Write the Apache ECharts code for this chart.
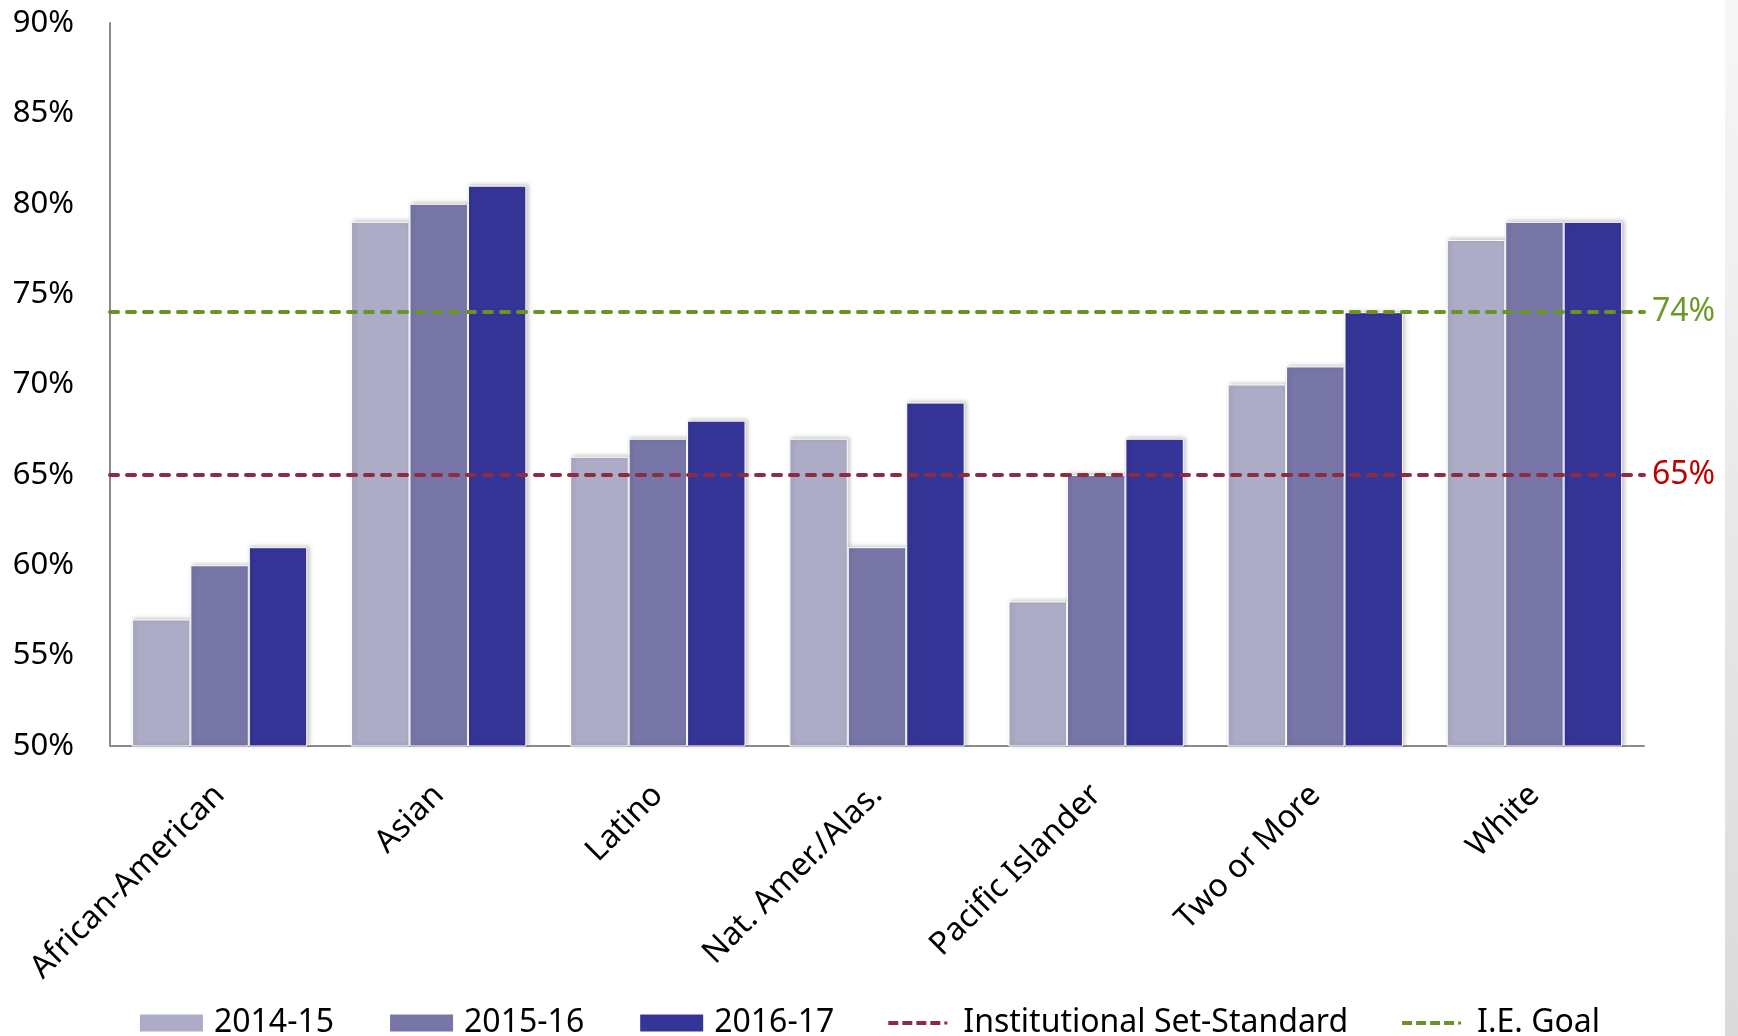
<!DOCTYPE html>
<html>
<head>
<meta charset="utf-8">
<script src="https://cdn.jsdelivr.net/npm/echarts@6/dist/echarts.min.js"></script>
<style>
  html, body { margin: 0; padding: 0; background: #ffffff; }
  #chart { width: 1738px; height: 1036px; }
</style>
</head>
<body>
<div id="chart"></div>
<script>
// Course success rates by ethnicity, three academic years
const categories = ['African-American', 'Asian', 'Latino', 'Nat. Amer./Alas.', 'Pacific Islander', 'Two or More', 'White'];
const years = ['2014-15', '2015-16', '2016-17'];
const rate2014 = [57, 79, 66, 67, 58, 70, 78];
const rate2015 = [60, 80, 67, 61, 65, 71, 79];
const rate2016 = [61, 81, 68, 69, 67, 74, 79];
const setStandard = 65;   // Institutional Set-Standard
const ieGoal = 74;        // I.E. Goal

const barColors = ['#ACACC6', '#7776A7', '#353597'];
const FONT = 'Noto Sans';
const DASH = [8, 9];

// dashed-line key glyph: four dashes and a dot, laid out in a 65x19 box
const DASH_ICON = 'path://M0,0M65,19' +
  'M0,7.5h10v4h-10z M14,7.5h10v4h-10z M28,7.5h10v4h-10z M42,7.5h10v4h-10z M56,8h3v3h-3z';

const barSeries = [rate2014, rate2015, rate2016].map((vals, i) => ({
  name: years[i],
  type: 'bar',
  data: vals,
  barGap: '0%',
  barCategoryGap: '20%',
  itemStyle: {
    color: barColors[i],
    borderColor: '#ffffff',
    borderWidth: 1,
    shadowColor: 'rgba(0,0,0,0.22)',
    shadowBlur: 4,
    shadowOffsetX: 2,
    shadowOffsetY: -1
  }
}));

function refLine(name, value, lineColor, labelColor) {
  return {
    name: name,
    type: 'line',
    data: categories.map(() => null),
    symbol: 'none',
    color: lineColor,
    itemStyle: { color: lineColor },
    lineStyle: { color: lineColor, width: 4, type: DASH, cap: 'round' },
    markLine: {
      silent: true,
      symbol: ['none', 'none'],
      lineStyle: { color: lineColor, width: 4, type: DASH, cap: 'round' },
      label: {
        show: true,
        position: 'end',
        distance: 8,
        formatter: value + '%',
        color: labelColor,
        fontFamily: FONT,
        fontSize: 32
      },
      data: [{ yAxis: value }]
    }
  };
}

const chart = echarts.init(document.getElementById('chart'));
chart.setOption({
  animation: false,
  backgroundColor: '#ffffff',
  grid: { left: 110, right: 94, top: 23, bottom: 290 },
  graphic: [{
    type: 'rect',
    right: 0,
    top: 0,
    shape: { width: 13, height: 1036 },
    style: {
      fill: new echarts.graphic.LinearGradient(0, 0, 0, 1, [
        { offset: 0, color: '#f7f7f7' },
        { offset: 1, color: '#dadada' }
      ])
    },
    silent: true
  }],
  legend: {
    left: 'center',
    top: 1002,
    itemWidth: 65,
    itemHeight: 19,
    itemGap: 54,
    textStyle: { fontFamily: FONT, fontSize: 32, color: '#000000', padding: [0, 0, 0, 5] },
    data: [
      { name: years[0], icon: 'rect' },
      { name: years[1], icon: 'rect' },
      { name: years[2], icon: 'rect' },
      { name: 'Institutional Set-Standard', icon: DASH_ICON },
      { name: 'I.E. Goal', icon: DASH_ICON }
    ]
  },
  xAxis: {
    type: 'category',
    data: categories,
    axisLine: { lineStyle: { color: '#8c8c8c', width: 2 } },
    axisTick: { show: false },
    axisLabel: {
      rotate: 45,
      margin: 44,
      interval: 0,
      fontFamily: FONT,
      fontSize: 32,
      color: '#000000'
    }
  },
  yAxis: {
    type: 'value',
    min: 50,
    max: 90,
    interval: 5,
    axisLine: { show: true, lineStyle: { color: '#8c8c8c', width: 2 } },
    axisTick: { show: false },
    splitLine: { show: false },
    axisLabel: {
      formatter: '{value}%',
      margin: 36,
      fontFamily: FONT,
      fontSize: 31,
      color: '#000000'
    }
  },
  series: barSeries.concat([
    refLine('Institutional Set-Standard', setStandard, '#8E2A42', '#C00000'),
    refLine('I.E. Goal', ieGoal, '#6A9226', '#6B9A2A')
  ])
});
</script>
</body>
</html>
